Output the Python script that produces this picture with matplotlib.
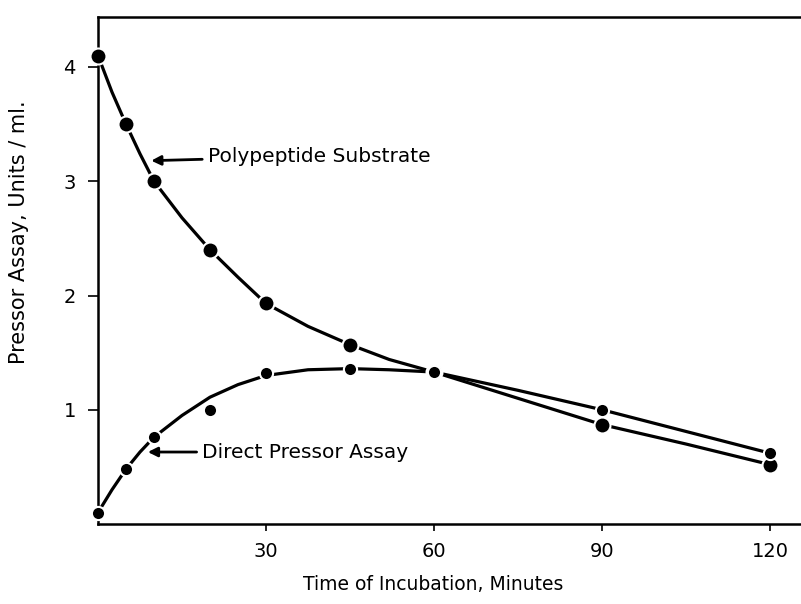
import matplotlib
matplotlib.use("Agg")
import matplotlib.pyplot as plt

# measured points
minutes = [0, 5, 10, 20, 30, 45, 60, 90, 120]
substrate = [4.1, 3.5, 3.0, 2.4, 1.93, 1.57, 1.33, 0.87, 0.52]
direct = [0.1, 0.48, 0.76, 1.0, 1.32, 1.36, 1.33, 1.0, 0.62]

# hand-drawn curves
curve_x_sub = [0, 2.5, 5, 7.5, 10, 15, 20, 25, 30, 37.5, 45, 52, 60, 75, 90, 105, 120]
curve_sub = [4.1, 3.78, 3.5, 3.24, 3.0, 2.68, 2.4, 2.16, 1.93, 1.73, 1.57, 1.44, 1.33, 1.1, 0.87, 0.7, 0.52]
curve_x_dir = [0, 2.5, 5, 7.5, 10, 15, 20, 25, 30, 37.5, 45, 52, 60, 75, 90, 105, 120]
curve_dir = [0.1, 0.3, 0.48, 0.63, 0.76, 0.95, 1.11, 1.22, 1.3, 1.35, 1.36, 1.35, 1.33, 1.17, 1.0, 0.81, 0.62]

plt.rcParams['font.family'] = ['DejaVu Sans']

fig = plt.figure(figsize=(8.01, 6.04), dpi=100)
ax = fig.add_axes([98 / 801, 1 - 524 / 604, 1 - 98 / 801, (524 - 17) / 604])

ax.plot(curve_x_sub, curve_sub, color='black', lw=2.3, zorder=2)
ax.plot(curve_x_dir, curve_dir, color='black', lw=2.3, zorder=2)
ax.plot(minutes, substrate, 'o', color='black', ms=11.5, mec='white', mew=1.5,
        zorder=3, clip_on=False)
ax.plot(minutes, direct, 'o', color='black', ms=9.5, mec='white', mew=1.5,
        zorder=4, clip_on=False)

ax.annotate('Polypeptide Substrate', xy=(9.5, 3.18), xytext=(19.6, 3.22),
            fontsize=14.5, va='center', ha='left',
            arrowprops=dict(arrowstyle='-|>', color='black', lw=2,
                            mutation_scale=14, shrinkA=2, shrinkB=0))
ax.annotate('Direct Pressor Assay', xy=(8.9, 0.63), xytext=(18.6, 0.63),
            fontsize=14.5, va='center', ha='left',
            arrowprops=dict(arrowstyle='-|>', color='black', lw=2,
                            mutation_scale=14, shrinkA=2, shrinkB=0))

ax.set_xlim(0, 703 / 5.6)
ax.set_ylim(0, (524 - 17) / 114.25)
ax.set_xticks([30, 60, 90, 120])
ax.set_yticks([1, 2, 3, 4])
ax.tick_params(axis='y', length=7, width=1.2, pad=9, labelsize=14)
ax.tick_params(axis='x', length=5, width=1.2, pad=8, labelsize=14)
ax.spines['right'].set_visible(False)
for s in ['left', 'top', 'bottom']:
    ax.spines[s].set_linewidth(1.8)

fig.text(433 / 801, 1 - 584 / 604, 'Time of Incubation, Minutes',
         ha='center', va='center', fontsize=13.5)
fig.text(19 / 801, 1 - 232 / 604, 'Pressor Assay, Units / ml.',
         ha='center', va='center', rotation=90, fontsize=15)

fig.savefig('out.png', dpi=100)
